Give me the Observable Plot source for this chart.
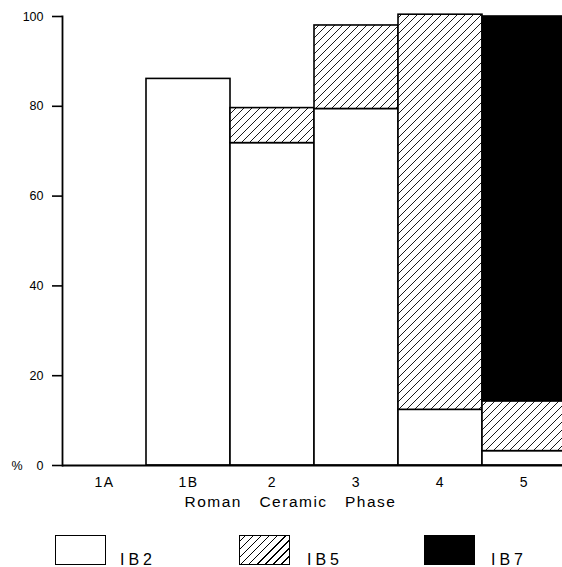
<!DOCTYPE html>
<html>
<head>
<meta charset="utf-8">
<script src="https://cdn.jsdelivr.net/npm/d3@7"></script>
<script src="https://cdn.jsdelivr.net/npm/@observablehq/plot@0.6"></script>
<style>
  body { margin: 0; background: white; font-family: "Liberation Sans", Arial, sans-serif; }
  #chart svg { font-family: "Liberation Sans", Arial, sans-serif; color: black; background: white; }
  #chart svg g[aria-label="text"] text { letter-spacing: 1.5px; }
  #legend { position: relative; width: 562px; height: 47px; }
  #legend .sw { position: absolute; top: 15px; width: 49px; height: 28px; border: 1.5px solid black; }
  #legend .hatch { background: repeating-linear-gradient(-45deg, white 0px, white 4.8px, black 4.8px, black 5.7px); }
  #legend .lb { position: absolute; top: 31px; font-size: 16px; line-height: 18px; letter-spacing: 4px; }
</style>
</head>
<body>
<div id="chart"></div>
<div id="legend"></div>
<svg width="0" height="0" style="position:absolute;left:0;top:0">
  <defs>
    <pattern id="hatch" patternUnits="userSpaceOnUse" width="8" height="8">
      <rect width="8" height="8" fill="white"/>
      <path d="M-2,2 L2,-2 M0,8 L8,0 M6,10 L10,6" stroke="black" stroke-width="0.9"/>
    </pattern>
  </defs>
</svg>
<script>
const phases = ["1A", "1B", "2", "3", "4", "5"];
const seriesNames = ["IB2", "IB5", "IB7"];
const ib2 = [0, 86.1, 71.8, 79.4, 12.4, 3.2];
const ib5 = [0, 0, 7.8, 18.6, 88.0, 11.1];
const ib7 = [0, 0, 0, 0, 0, 85.7];
const yTicks = [0, 20, 40, 60, 80, 100];
const xTitle = "Roman\u00a0\u00a0\u00a0Ceramic\u00a0\u00a0\u00a0Phase";

const data = [];
phases.forEach((p, i) => {
  data.push({phase: p, series: "IB2", value: ib2[i]});
  if (ib5[i] > 0) data.push({phase: p, series: "IB5", value: ib5[i]});
  if (ib7[i] > 0) data.push({phase: p, series: "IB7", value: ib7[i]});
});
const base = phases.map(p => ({phase: p, value: 0}));

const chart = Plot.plot({
  width: 562,
  height: 520,
  marginTop: 16,
  marginBottom: 55,
  marginLeft: 62,
  marginRight: -4,
  x: {domain: phases, padding: 0, axis: null},
  y: {domain: [0, 100], axis: null},
  color: {domain: seriesNames, range: ["white", "url(#hatch)", "black"]},
  marks: [
    Plot.rectY(data, Plot.stackY({x: "phase", y: "value", fill: "series", stroke: "black", strokeWidth: 1.6})),
    Plot.tickY(base, {x: "phase", y: "value", stroke: "black", strokeWidth: 1.8}),
    Plot.axisY(yTicks, {
      tickSize: 10, tickPadding: 9, fontSize: 12.5, stroke: "black", strokeWidth: 1.6, label: null,
      tickFormat: d => d === 0 ? "%\u00a0\u00a0\u00a0\u00a00" : String(d)
    }),
    Plot.frame({anchor: "left", stroke: "black", strokeWidth: 1.8}),
    Plot.text(phases, {x: d => d, frameAnchor: "bottom", dy: 21, fontSize: 14, text: d => d}),
    Plot.text([xTitle], {frameAnchor: "bottom", dx: -24, dy: 41, fontSize: 15.5, text: d => d})
  ]
});
document.getElementById("chart").appendChild(chart);

const legend = document.getElementById("legend");
const fills = {IB2: "white", IB5: "hatch", IB7: "black"};
const swX = [55, 239, 424];
const lbX = [120, 307, 491];
seriesNames.forEach((s, i) => {
  const sw = document.createElement("div");
  sw.className = "sw";
  sw.style.left = swX[i] + "px";
  if (fills[s] === "hatch") sw.classList.add("hatch");
  else sw.style.background = fills[s];
  legend.appendChild(sw);
  const lb = document.createElement("div");
  lb.className = "lb";
  lb.style.left = lbX[i] + "px";
  lb.textContent = s;
  legend.appendChild(lb);
});
</script>
</body>
</html>
